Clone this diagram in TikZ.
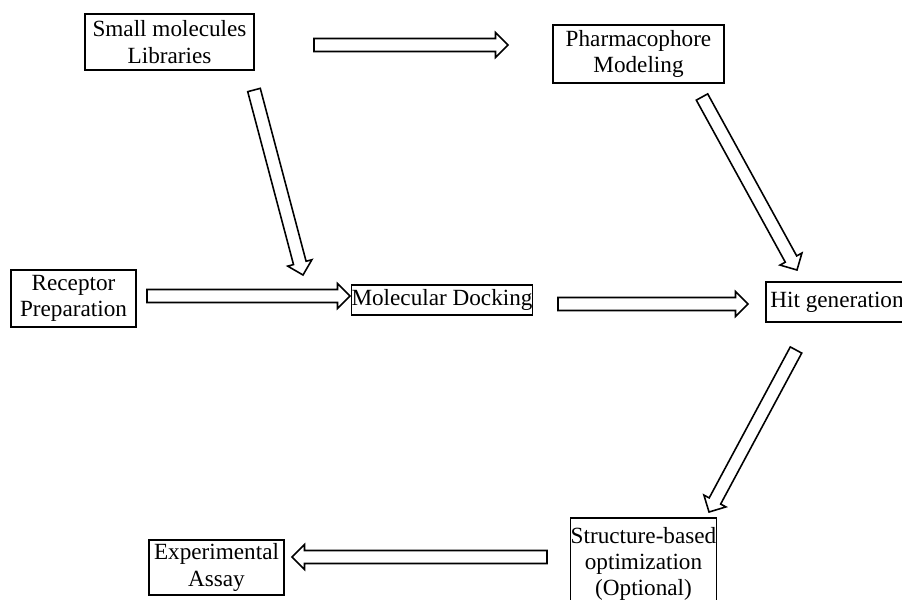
\documentclass[tikz,border=0pt]{standalone}
\usepackage{fontspec}
\setmainfont{Liberation Serif}
\usetikzlibrary{calc}

\tikzset{
  stage/.style={draw, line width=0.85pt, align=center, inner sep=0pt,
                font=\fontsize{13.2}{15.0}\selectfont},
  blockline/.style={draw, line width=0.9pt, line join=miter, fill=white}
}

% hollow block arrow from tail (#1) to tip (#2)
\def\sw{0.13cm}
\def\hw{0.25cm}
\def\hl{0.25cm}
\newcommand{\blockarrow}[2]{%
  \coordinate (ba-h) at ($(#2)!\hl!(#1)$);
  \draw[blockline] ($(#1)!\sw!90:(#2)$) -- ($(ba-h)!\sw!90:(#2)$)
        -- ($(ba-h)!\hw!90:(#2)$) -- (#2) -- ($(ba-h)!\hw!-90:(#2)$)
        -- ($(ba-h)!\sw!-90:(#2)$) -- ($(#1)!\sw!-90:(#2)$) -- cycle;
}

\begin{document}
\begin{tikzpicture}[x=0.02cm, y=-0.02cm]

  \useasboundingbox (0,0) rectangle (902,599);

  %% ── Stages ────────────────────
  \node[stage, minimum width=3.38cm, minimum height=1.12cm] (lib)    at (169.5,42)  {Small molecules\\Libraries};
  \node[stage, minimum width=3.42cm, minimum height=1.16cm] (pharm)  at (638.5,54)  {Pharmacophore\\Modeling};
  \node[stage, minimum width=2.50cm, minimum height=1.14cm] (rec)    at (73.5,298.5) {Receptor\\Preparation};
  \node[stage, minimum width=3.44cm, minimum height=0.60cm] (dock)   at (442,300)   {Molecular Docking};
  \node[stage, minimum width=2.84cm, minimum height=0.80cm] (hit)    at (837,302)   {Hit generation};
  \node[stage, minimum width=2.86cm, minimum height=1.84cm] (struct) at (643.5,564) {Structure-based\\optimization\\(Optional)};
  \node[stage, minimum width=2.70cm, minimum height=1.10cm] (exp)    at (216.5,567.5) {Experimental\\Assay};

  %% ── Arrow ends (tail / tip) ───
  \coordinate (lib-pharm-t)  at (314,45);
  \coordinate (lib-pharm-h)  at (508,45);
  \coordinate (lib-dock-t)   at (254,90);
  \coordinate (lib-dock-h)   at (303,275);
  \coordinate (rec-dock-t)   at (147,296);
  \coordinate (rec-dock-h)   at (350,296);
  \coordinate (dock-hit-t)   at (558,304);
  \coordinate (dock-hit-h)   at (748,304);
  \coordinate (pharm-hit-t)  at (702,97);
  \coordinate (pharm-hit-h)  at (797,270);
  \coordinate (hit-struct-t) at (796,350);
  \coordinate (hit-struct-h) at (709,512);
  \coordinate (struct-exp-t) at (547,557);
  \coordinate (struct-exp-h) at (292,557);

  %% ── Block arrows ──────────────
  \blockarrow{lib-pharm-t}{lib-pharm-h}
  \blockarrow{lib-dock-t}{lib-dock-h}
  \blockarrow{rec-dock-t}{rec-dock-h}
  \blockarrow{dock-hit-t}{dock-hit-h}
  \blockarrow{pharm-hit-t}{pharm-hit-h}
  \blockarrow{hit-struct-t}{hit-struct-h}
  \blockarrow{struct-exp-t}{struct-exp-h}

\end{tikzpicture}
\end{document}
